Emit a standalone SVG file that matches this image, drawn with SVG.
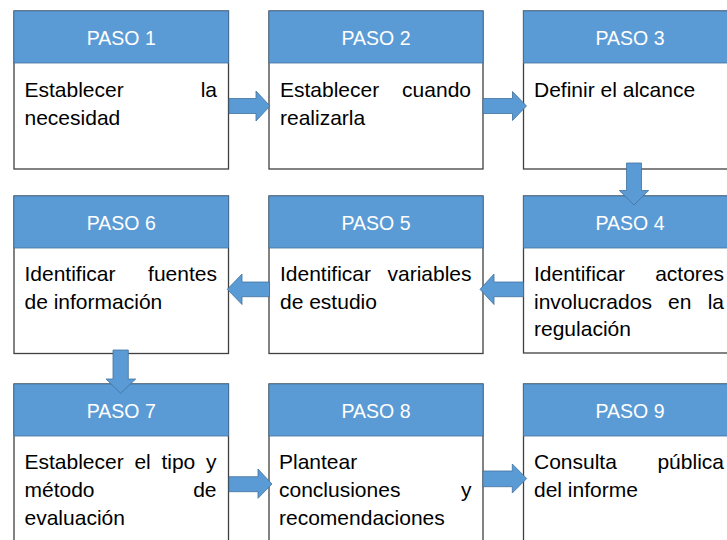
<svg xmlns="http://www.w3.org/2000/svg" width="727" height="540" viewBox="0 0 727 540">
<style>
.box{fill:#ffffff;stroke:#404040;stroke-width:1.3}
.hdr{fill:#5B9BD5;stroke:#41719C;stroke-width:0.8}
.ht{font-family:"Liberation Sans",Arial,sans-serif;font-size:19.5px;fill:#ffffff;text-anchor:middle}
.bt{font-family:"Liberation Sans",Arial,sans-serif;font-size:21px;fill:#000000}
.e{text-anchor:end}
.arr{fill:#5B9BD5;stroke:#41719C;stroke-width:0.8}
</style>
<rect width="727" height="540" fill="#ffffff"/>
<g id="paso1">
<rect class="box" x="14" y="11" width="214.5" height="158"/>
<rect class="hdr" x="14" y="11" width="214.5" height="52"/>
<text class="ht" x="121.3" y="44.5">PASO 1</text>
<text class="bt" x="24.5" y="97">Establecer</text>
<text class="bt e" x="217" y="97">la</text>
<text class="bt" x="24.5" y="124.5">necesidad</text>
</g>
<g id="paso2">
<rect class="box" x="269" y="11" width="214" height="158"/>
<rect class="hdr" x="269" y="11" width="214" height="52"/>
<text class="ht" x="376" y="44.5">PASO 2</text>
<text class="bt" x="280" y="97">Establecer</text>
<text class="bt e" x="471" y="97">cuando</text>
<text class="bt" x="280" y="124.5">realizarla</text>
</g>
<g id="paso3">
<rect class="box" x="523.5" y="11" width="214" height="158"/>
<rect class="hdr" x="523.5" y="11" width="214" height="52"/>
<text class="ht" x="630" y="44.5">PASO 3</text>
<text class="bt" x="534" y="97">Definir el alcance</text>
</g>
<g id="paso4">
<rect class="box" x="523.5" y="196" width="214" height="157"/>
<rect class="hdr" x="523.5" y="196" width="214" height="52"/>
<text class="ht" x="630" y="229.5">PASO 4</text>
<text class="bt" x="534" y="281">Identificar</text>
<text class="bt e" x="724" y="281">actores</text>
<text class="bt" x="534" y="308.5">involucrados</text>
<text class="bt" x="668" y="308.5">en</text>
<text class="bt e" x="724" y="308.5">la</text>
<text class="bt" x="534" y="336">regulación</text>
</g>
<g id="paso5">
<rect class="box" x="269" y="196" width="214" height="157.5"/>
<rect class="hdr" x="269" y="196" width="214" height="52"/>
<text class="ht" x="376" y="229.5">PASO 5</text>
<text class="bt" x="280" y="281">Identificar</text>
<text class="bt e" x="471.5" y="281">variables</text>
<text class="bt" x="280" y="308.5">de estudio</text>
</g>
<g id="paso6">
<rect class="box" x="14" y="196" width="214.5" height="157.5"/>
<rect class="hdr" x="14" y="196" width="214.5" height="52"/>
<text class="ht" x="121.3" y="229.5">PASO 6</text>
<text class="bt" x="24.5" y="281">Identificar</text>
<text class="bt e" x="217" y="281">fuentes</text>
<text class="bt" x="24.5" y="308.5">de información</text>
</g>
<g id="paso7">
<rect class="box" x="14" y="384" width="214.5" height="170"/>
<rect class="hdr" x="14" y="384" width="214.5" height="52"/>
<text class="ht" x="121.3" y="417.5">PASO 7</text>
<text class="bt" x="24.5" y="469">Establecer</text>
<text class="bt" x="134.4" y="469">el</text>
<text class="bt" x="161.4" y="469">tipo</text>
<text class="bt e" x="216.5" y="469">y</text>
<text class="bt" x="24.5" y="496.5">método</text>
<text class="bt e" x="216.5" y="496.5">de</text>
<text class="bt" x="24.5" y="524.5">evaluación</text>
</g>
<g id="paso8">
<rect class="box" x="269" y="384" width="214" height="170"/>
<rect class="hdr" x="269" y="384" width="214" height="52"/>
<text class="ht" x="376" y="417.5">PASO 8</text>
<text class="bt" x="279" y="469">Plantear</text>
<text class="bt" x="279" y="496.5">conclusiones</text>
<text class="bt e" x="471.5" y="496.5">y</text>
<text class="bt" x="279" y="524.5">recomendaciones</text>
</g>
<g id="paso9">
<rect class="box" x="523.5" y="384" width="214" height="170"/>
<rect class="hdr" x="523.5" y="384" width="214" height="52"/>
<text class="ht" x="630" y="417.5">PASO 9</text>
<text class="bt" x="534" y="469">Consulta</text>
<text class="bt e" x="724" y="469">pública</text>
<text class="bt" x="534" y="496.5">del informe</text>
</g>
<g id="connectors">
<polygon class="arr" points="229,98.5 256,98.5 256,91 270,106 256,121 256,113.5 229,113.5"/>
<polygon class="arr" points="483,98.5 512.5,98.5 512.5,91.5 526.5,106 512.5,120.5 512.5,113.5 483,113.5"/>
<polygon class="arr" points="626.5,163 641.5,163 641.5,190.5 648.7,190.5 634,205 619.3,190.5 626.5,190.5"/>
<polygon class="arr" points="523.5,282 494,282 494,274 480,289.3 494,304.5 494,296.7 523.5,296.7"/>
<polygon class="arr" points="269.5,282 242,282 242,274 227.3,289.3 242,304.5 242,296.7 269.5,296.7"/>
<polygon class="arr" points="113,350 128.3,350 128.3,379 135.7,379 120.7,393.3 106,379 113,379"/>
<polygon class="arr" points="229,476.7 258,476.7 258,469 272,484 258,498.3 258,491.7 229,491.7"/>
<polygon class="arr" points="483,471 512.3,471 512.3,464 526.7,478.5 512.3,493 512.3,486.7 483,486.7"/>
</g>
</svg>
